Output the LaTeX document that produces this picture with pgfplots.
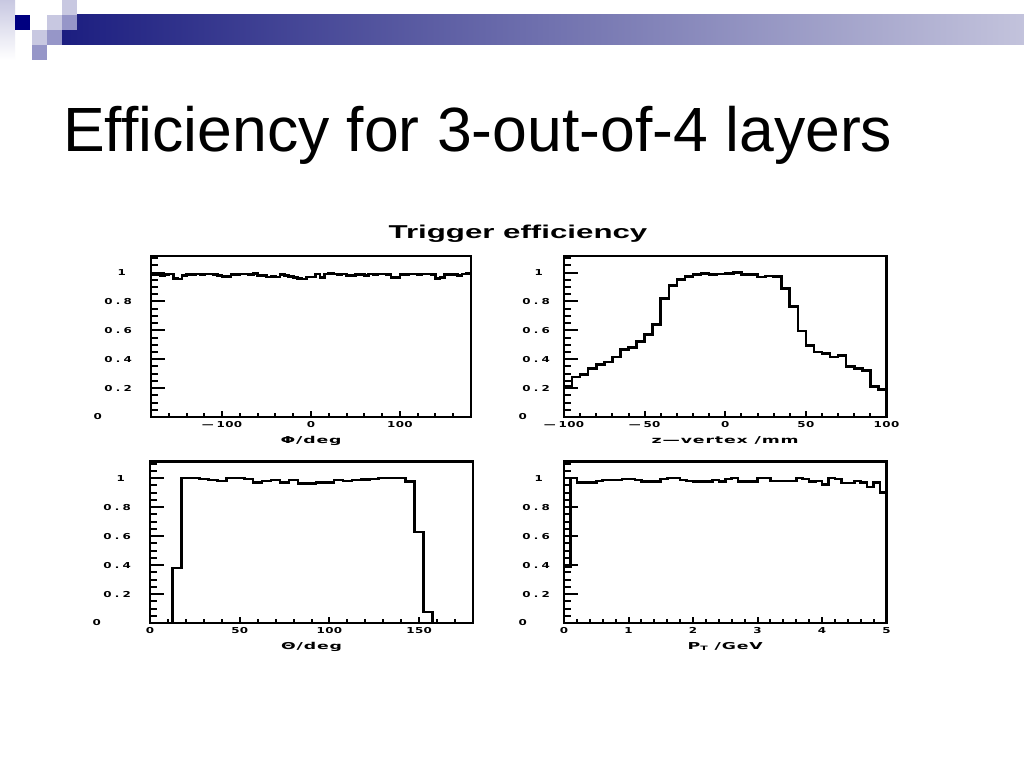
\documentclass[border=0pt]{standalone}
\usepackage{fontspec}
\setmainfont{Liberation Sans}
\newfontfamily\tickfont{DejaVu Sans}[LetterSpace=3]
\newfontfamily\labfont{DejaVu Sans}[LetterSpace=5]
\usepackage{graphicx}
\usepackage{pgfplots}
\pgfplotsset{compat=1.18}

% PAW-like labels: wide and flat
\newcommand{\tl}[1]{\scalebox{1.45}[1]{\fontsize{8.2}{8.2}\selectfont\tickfont\bfseries #1}}
\newcommand{\al}[1]{\scalebox{1.82}[1]{\fontsize{9.5}{9.5}\selectfont\labfont\bfseries #1}}
\newcommand{\dec}[1]{0\kern2.2pt.\kern2.2pt#1}
\newcommand{\mi}{—\kern2pt}

\definecolor{navy}{RGB}{0,0,128}
\definecolor{sqmed}{RGB}{150,150,200}
\definecolor{sqlight}{RGB}{200,200,225}
\definecolor{barL}{RGB}{28,30,128}
\definecolor{barR}{RGB}{195,195,220}

\pgfplotsset{
  paw/.style={
    scale only axis,
    ymin=0, ymax=1.115,
    axis line style={line width=2.6pt},
    tick pos=left, tick align=inside,
    ytick={0,0.2,0.4,0.6,0.8,1},
    minor ytick={0.05,0.1,0.15,0.2,0.25,0.3,0.35,0.4,0.45,0.5,0.55,0.6,0.65,0.7,0.75,0.8,0.85,0.9,0.95,1.05,1.1},
    major tick style={line width=2pt,black},
    minor tick style={line width=2pt,black},
    xtick style={/pgfplots/major tick length=6pt,/pgfplots/minor tick length=4pt},
    ytick style={/pgfplots/major tick length=14pt,/pgfplots/minor tick length=7pt},
    xticklabel style={anchor=base, yshift=-10.6pt, inner sep=0pt},
    yticklabel style={anchor=east, inner sep=0pt},
    xlabel style={at={(axis description cs:0.5,0)}, anchor=base, yshift=-26.5pt, inner sep=0pt},
  },
  ylabs/.style 2 args={
    yticklabels={\tl{0}\hspace*{#1},\tl{\dec2},\tl{\dec4},\tl{\dec6},\tl{\dec8},\tl{1}\hspace*{#2}},
  },
  hist/.style={const plot, black, line width=2.6pt, mark=none},
}

\begin{document}
\begin{tikzpicture}[x=1pt,y=1pt]
\useasboundingbox (0,0) rectangle (1024,768);
\fill[white] (0,0) rectangle (1024,768);

% slide header
\shade[top color=sqlight, bottom color=white] (0,708) rectangle (15,768);
\shade[left color=barL, right color=barR] (62,723) rectangle (1024,753);
\fill[navy] (15,738) rectangle (30,753);
\fill[sqlight] (62,753) rectangle (77,768);
\fill[sqlight] (47,738) rectangle (62,753);
\fill[sqmed] (62,738) rectangle (77,753);
\fill[sqlight] (32,723) rectangle (47,738);
\fill[sqmed] (47,723) rectangle (62,738);
\fill[sqmed] (32,708) rectangle (47,723);

\node[anchor=base west, inner sep=0pt, font=\fontsize{62.5}{62.5}\selectfont] at (63,616) {Efficiency for 3-out-of-4 layers};
\node[anchor=base, inner sep=0pt] at (518,529) {\scalebox{1.68}[1]{\fontsize{18.6}{18.6}\selectfont\bfseries Trigger efficiency}};

% phi
\begin{axis}[paw, ylabs={30pt}{6pt}, at={(151pt,351pt)}, anchor=south west, width=320pt, height=161pt,
  xmin=-180, xmax=180,
  xtick={-100,0,100}, xticklabels={\tl{\mi100},\tl{0},\tl{100}},
  minor xtick={-160,-140,-120,-80,-60,-40,-20,20,40,60,80,120,140,160},
  yticklabel style={xshift=-19pt},
  xlabel={\al{Φ/deg}}]
\addplot[hist] coordinates {
(-180,0.985)(-175,0.985)(-170,0.98)(-165,0.985)(-160,0.99)(-155,0.96)
(-150,0.955)(-145,0.98)(-140,0.985)(-135,0.985)(-130,0.99)(-125,0.985)
(-120,0.99)(-115,0.99)(-110,0.985)(-105,0.98)(-100,0.975)(-95,0.975)
(-90,0.985)(-85,0.985)(-80,0.99)(-75,0.99)(-70,0.985)(-65,0.995)
(-60,0.98)(-55,0.98)(-50,0.97)(-45,0.975)(-40,0.97)(-35,0.985)
(-30,0.98)(-25,0.975)(-20,0.965)(-15,0.96)(-10,0.955)(-5,0.97)
(0,0.97)(5,0.99)(10,0.965)(15,0.99)(20,0.995)(25,0.99)
(30,0.985)(35,0.99)(40,0.98)(45,0.98)(50,0.985)(55,0.985)
(60,0.98)(65,0.99)(70,0.985)(75,0.99)(80,0.99)(85,0.985)
(90,0.965)(95,0.965)(100,0.985)(105,0.985)(110,0.99)(115,0.99)
(120,0.985)(125,0.99)(130,0.99)(135,0.985)(140,0.96)(145,0.965)
(150,0.985)(155,0.985)(160,0.985)(165,0.98)(170,0.99)(175,0.995)
(180,0.995)};
\end{axis}

% z-vertex
\begin{axis}[paw, ylabs={23pt}{7pt}, at={(564pt,351pt)}, anchor=south west, width=322.5pt, height=161pt,
  xmin=-100, xmax=100,
  xtick={-100,-50,0,50,100}, xticklabels={\tl{\mi100},\tl{\mi50},\tl{0},\tl{50},\tl{100}},
  minor xtick={-90,-80,-70,-60,-40,-30,-20,-10,10,20,30,40,60,70,80,90},
  yticklabel style={xshift=-14pt},
  xlabel={\al{z—vertex /mm}}]
\addplot[hist] coordinates {
(-100,0.21)(-95,0.277)(-90,0.296)(-85,0.335)(-80,0.365)(-75,0.38)
(-70,0.415)(-65,0.466)(-60,0.48)(-55,0.524)(-50,0.573)(-45,0.64)
(-40,0.82)(-35,0.912)(-30,0.954)(-25,0.975)(-20,0.986)(-15,0.993)
(-10,0.986)(-5,0.99)(0,0.993)(5,1.0)(10,0.988)(15,0.988)
(20,0.97)(25,0.977)(30,0.975)(35,0.89)(40,0.767)(45,0.596)
(50,0.497)(55,0.45)(60,0.44)(65,0.416)(70,0.427)(75,0.35)
(80,0.335)(85,0.323)(90,0.212)(95,0.19)(100,0.19)};
\end{axis}

% theta
\begin{axis}[paw, ylabs={30pt}{6pt}, at={(150pt,145pt)}, anchor=south west, width=323pt, height=161.5pt,
  xmin=0, xmax=180,
  xtick={0,50,100,150}, xticklabels={\tl{0},\tl{50},\tl{100},\tl{150}},
  minor xtick={10,20,30,40,60,70,80,90,110,120,130,140,160,170},
  yticklabel style={xshift=-19pt},
  xlabel={\al{Θ/deg}}]
\addplot[hist] coordinates {
(0,0)(12.5,0.381)(17.5,1.0)(22.5,1.0)(27.5,0.993)(32.5,0.986)
(37.5,0.98)(42.5,1.0)(47.5,1.0)(52.5,0.993)(57.5,0.97)(62.5,0.98)
(67.5,0.988)(72.5,0.97)(77.5,0.988)(82.5,0.963)(87.5,0.963)(92.5,0.97)
(97.5,0.97)(102.5,0.988)(107.5,0.98)(112.5,0.986)(117.5,0.99)(122.5,0.995)
(127.5,1.0)(132.5,1.0)(137.5,1.0)(142.5,0.977)(147.5,0.628)(152.5,0.076)
(157.5,0)(180,0)};
\end{axis}

% pT
\begin{axis}[paw, ylabs={23pt}{7pt}, at={(564pt,145pt)}, anchor=south west, width=322.5pt, height=161.5pt,
  xmin=0, xmax=5,
  xtick={0,1,2,3,4,5}, xticklabels={\tl{0},\tl{1},\tl{2},\tl{3},\tl{4},\tl{5}},
  minor xtick={0.2,0.4,0.6,0.8,1.2,1.4,1.6,1.8,2.2,2.4,2.6,2.8,3.2,3.4,3.6,3.8,4.2,4.4,4.6,4.8},
  yticklabel style={xshift=-14pt},
  xlabel={\al{P\raisebox{-0.25ex}{\fontsize{6}{6}\selectfont T} /GeV}}]
\addplot[hist] coordinates {
(0.0,0.39)(0.1,1.0)(0.2,0.97)(0.3,0.97)(0.4,0.97)(0.5,0.98)
(0.6,0.986)(0.7,0.986)(0.8,0.986)(0.9,0.995)(1.0,0.995)(1.1,0.986)
(1.2,0.977)(1.3,0.977)(1.4,0.977)(1.5,0.993)(1.6,1.0)(1.7,1.0)
(1.8,0.988)(1.9,0.98)(2.0,0.977)(2.1,0.977)(2.2,0.977)(2.3,0.986)
(2.4,0.977)(2.5,0.993)(2.6,1.0)(2.7,0.977)(2.8,0.977)(2.9,0.977)
(3.0,1.0)(3.1,1.0)(3.2,0.98)(3.3,0.98)(3.4,0.98)(3.5,0.98)
(3.6,1.0)(3.7,0.993)(3.8,0.977)(3.9,0.98)(4.0,0.958)(4.1,1.0)
(4.2,0.993)(4.3,0.967)(4.4,0.967)(4.5,0.98)(4.6,0.97)(4.7,0.94)
(4.8,0.97)(4.9,0.90)(5.0,0.90)};
\end{axis}
\end{tikzpicture}
\end{document}
